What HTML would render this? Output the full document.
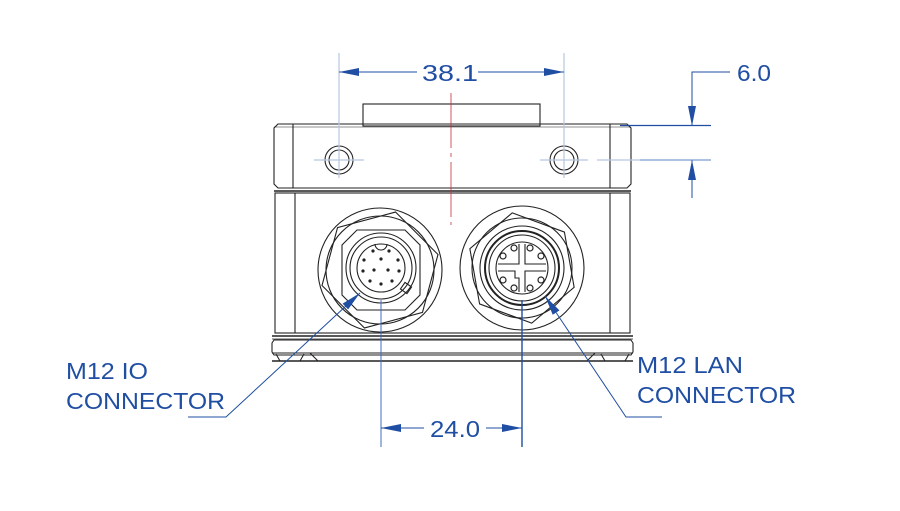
<!DOCTYPE html>
<html><head><style>html,body{margin:0;padding:0;background:#fff}svg{display:block}</style></head>
<body>
<svg width="900" height="511" viewBox="0 0 900 511" xmlns="http://www.w3.org/2000/svg">
<defs>
<marker id="ar" viewBox="0 0 20 10" refX="20" refY="5" markerWidth="20" markerHeight="10" markerUnits="userSpaceOnUse" orient="auto"><path d="M0,1 L20,5 L0,9 Z" fill="#1f4ea3"/></marker>
</defs>
<g fill="none" stroke="#222" stroke-width="1.1">
<rect x="363" y="104" width="177" height="22"/>
<path d="M278,124 L627,124 L631,128 L631,184 L627,188 L278,188 L274,184 L274,128 Z"/>
<line x1="293" y1="124" x2="293" y2="188"/>
<line x1="610" y1="124" x2="610" y2="188"/>
<line x1="274" y1="127" x2="631" y2="127" stroke-width="0.6"/>
<line x1="274" y1="191" x2="631" y2="191" stroke-width="1.6"/>
<rect x="275" y="193" width="355" height="140"/>
<line x1="295" y1="193" x2="295" y2="333"/>
<line x1="610" y1="193" x2="610" y2="333"/>
<line x1="272" y1="336" x2="633" y2="336" stroke-width="1.6"/>
<line x1="272" y1="339" x2="633" y2="339" stroke-width="0.8"/>
<path d="M274,340 L631,340 L633,343 L633,352 L631,355 L274,355 L272,352 L272,343 Z"/>
<line x1="272" y1="353" x2="633" y2="353"/>
<line x1="272" y1="361" x2="633" y2="361" stroke-width="1.4"/>
<path d="M276,354 L280,361 L300,361 L304,354 M310,353 L318,361"/>
<path d="M629,354 L625,361 L605,361 L601,354 M595,353 L587,361"/>
<circle cx="339" cy="160" r="14"/><circle cx="339" cy="160" r="10"/>
<circle cx="564" cy="160" r="14"/><circle cx="564" cy="160" r="10"/>
<circle cx="380" cy="270" r="62"/>
<polygon points="380,210 432,240 432,300 380,330 328,300 328,240" transform="rotate(15 380 270)"/>
<circle cx="380" cy="270" r="54"/>
<polygon points="357,230 405,230 420,245 420,295 405,310 357,310 342,295 342,245"/>
<circle cx="381" cy="268" r="35"/>
<circle cx="381" cy="268" r="31"/>
<circle cx="381" cy="268" r="24"/>
<rect x="402" y="284" width="8" height="8" transform="rotate(35 406 288)"/>
<path d="M375,244 A6,6 0 0 0 387,244"/>
<circle cx="522" cy="268" r="62"/>
<polygon points="522,212 570,240 570,296 522,324 474,296 474,240" transform="rotate(-10 522 268)"/>
<circle cx="522" cy="268" r="50"/>
<circle cx="522" cy="268" r="42"/>
<circle cx="522" cy="268" r="37" stroke-width="2"/>
<circle cx="522" cy="268" r="33"/>
<circle cx="522" cy="268" r="26"/>
<path d="M519,244 L519,264 L498,264 M525,244 L525,264 L546,264 M498,271 L515,271 L515,278 L519,278 L519,292 M546,271 L525,271 L525,292"/>
<g stroke-width="1.2">
<circle cx="514" cy="248" r="3"/><circle cx="530" cy="248" r="3"/>
<circle cx="503" cy="256" r="3"/><circle cx="541" cy="256" r="3"/>
<circle cx="503" cy="280" r="3"/><circle cx="541" cy="280" r="3"/>
<circle cx="514" cy="288" r="3"/><circle cx="530" cy="288" r="3"/>
</g>
</g>
<g fill="#222">
<circle cx="373" cy="251" r="1.6"/><circle cx="389" cy="251" r="1.6"/>
<circle cx="364" cy="260" r="1.6"/><circle cx="381" cy="259" r="1.6"/><circle cx="398" cy="260" r="1.6"/>
<circle cx="363" cy="271" r="1.6"/><circle cx="374" cy="270" r="1.6"/><circle cx="388" cy="270" r="1.6"/><circle cx="399" cy="271" r="1.6"/>
<circle cx="370" cy="281" r="1.6"/><circle cx="392" cy="281" r="1.6"/><circle cx="381" cy="284" r="1.6"/>
</g>
<g stroke="#b8c6e0" stroke-width="1.2">
<line x1="339" y1="53" x2="339" y2="178"/>
<line x1="564" y1="53" x2="564" y2="178"/>
<line x1="314" y1="160" x2="364" y2="160"/>
<line x1="540" y1="160" x2="588" y2="160"/>
<line x1="597" y1="160" x2="640" y2="160"/>
</g>
<line x1="451" y1="93" x2="451" y2="225" stroke="#c0303a" stroke-width="0.8" stroke-dasharray="55,5,4,5"/>
<g stroke="#1f4ea3" stroke-width="1" fill="none">
<line x1="417" y1="72" x2="339" y2="72" marker-end="url(#ar)"/>
<line x1="478" y1="72" x2="564" y2="72" marker-end="url(#ar)"/>
<line x1="381" y1="300" x2="381" y2="447" stroke="#3f6cc0"/>
<line x1="522" y1="300" x2="522" y2="447" stroke-width="1.4"/>
<line x1="424" y1="428" x2="381" y2="428" marker-end="url(#ar)"/>
<line x1="486" y1="428" x2="522" y2="428" marker-end="url(#ar)"/>
<polyline points="730,72 692,72 692,126" marker-end="url(#ar)"/>
<line x1="692" y1="198" x2="692" y2="160" marker-end="url(#ar)"/>
<line x1="620" y1="125.5" x2="711" y2="125.5" stroke-width="1.3"/>
<line x1="640" y1="160" x2="711" y2="160" stroke="#5a80c8"/>
<polyline points="188,417 226,417 360,293" marker-end="url(#ar)"/>
<polyline points="662,417 626,417 545,296" marker-end="url(#ar)"/>
</g>
<g fill="#1f4ea3" font-family="Liberation Sans, sans-serif" font-size="23" lengthAdjust="spacingAndGlyphs">
<text x="422" y="81" textLength="56" lengthAdjust="spacingAndGlyphs">38.1</text>
<text x="430" y="437" textLength="50" lengthAdjust="spacingAndGlyphs">24.0</text>
<text x="737" y="81" textLength="34" lengthAdjust="spacingAndGlyphs">6.0</text>
<text x="66" y="379" textLength="82" lengthAdjust="spacingAndGlyphs">M12 IO</text>
<text x="66" y="409" textLength="159" lengthAdjust="spacingAndGlyphs">CONNECTOR</text>
<text x="637" y="373" textLength="106" lengthAdjust="spacingAndGlyphs">M12 LAN</text>
<text x="637" y="403" textLength="159" lengthAdjust="spacingAndGlyphs">CONNECTOR</text>
</g>
</svg>
</body></html>
